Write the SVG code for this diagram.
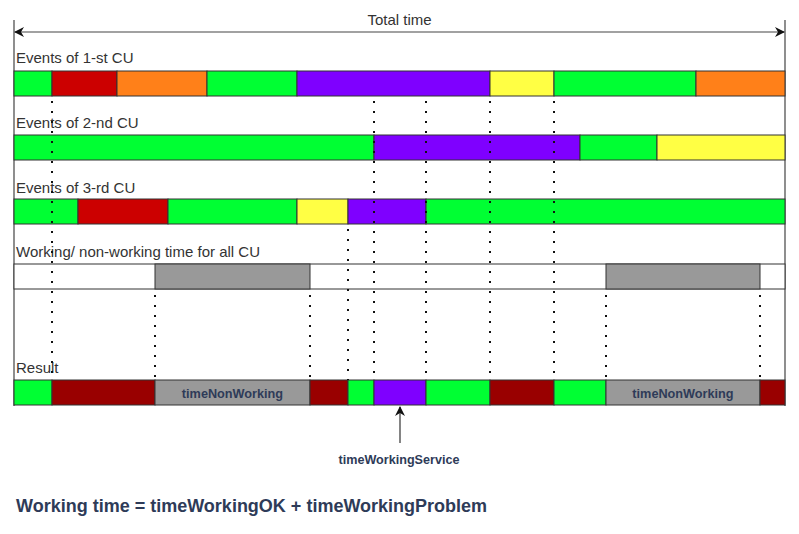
<svg xmlns="http://www.w3.org/2000/svg" width="799" height="534" viewBox="0 0 799 534">
<style>
.lbl{font-family:"Liberation Sans",Arial,sans-serif;font-size:15px;fill:#333}
.seg{stroke:#333;stroke-width:1}
.g{fill:#00ff33}.r{fill:#cc0000}.o{fill:#ff8019}.p{fill:#7f00ff}.y{fill:#ffff44}.w{fill:#ffffff}.gr{fill:#999999}.dr{fill:#990000}
.dot{stroke:#111;stroke-width:2;stroke-dasharray:2 8;fill:none}
.nav{font-family:"Liberation Sans",Arial,sans-serif;font-weight:bold;fill:#2e3b58}
</style>
<defs>
<marker id="ah" viewBox="0 0 10 10" refX="9" refY="5" markerWidth="10" markerHeight="10" markerUnits="userSpaceOnUse" orient="auto-start-reverse">
<path d="M0,0 L10,5 L0,10 L3,5 Z" fill="#111"/>
</marker>
</defs>
<rect width="799" height="534" fill="#fff"/>
<g id="frame">
<line x1="14" y1="20" x2="14" y2="406" stroke="#444" stroke-width="1.2"/>
<line x1="785" y1="20" x2="785" y2="406" stroke="#444" stroke-width="1.2"/>
<line x1="15" y1="32" x2="784" y2="32" stroke="#444" stroke-width="1.2" marker-start="url(#ah)" marker-end="url(#ah)"/>
<text class="lbl" x="399.5" y="25" text-anchor="middle">Total time</text>
</g>
<g id="row1">
<text class="lbl" x="16" y="63">Events of 1-st CU</text>
<rect class="seg g" x="14" y="71" width="38" height="25"/>
<rect class="seg r" x="52" y="71" width="65" height="25"/>
<rect class="seg o" x="117" y="71" width="90" height="25"/>
<rect class="seg g" x="207" y="71" width="90" height="25"/>
<rect class="seg p" x="297" y="71" width="193" height="25"/>
<rect class="seg y" x="490" y="71" width="64" height="25"/>
<rect class="seg g" x="554" y="71" width="142" height="25"/>
<rect class="seg o" x="696" y="71" width="89" height="25"/>
</g>
<g id="row2">
<text class="lbl" x="16" y="128">Events of 2-nd CU</text>
<rect class="seg g" x="14" y="135" width="360" height="25"/>
<rect class="seg p" x="374" y="135" width="206" height="25"/>
<rect class="seg g" x="580" y="135" width="77" height="25"/>
<rect class="seg y" x="657" y="135" width="128" height="25"/>
</g>
<g id="row3">
<text class="lbl" x="16" y="193">Events of 3-rd CU</text>
<rect class="seg g" x="14" y="199" width="64" height="25"/>
<rect class="seg r" x="78" y="199" width="90" height="25"/>
<rect class="seg g" x="168" y="199" width="129" height="25"/>
<rect class="seg y" x="297" y="199" width="51" height="25"/>
<rect class="seg p" x="348" y="199" width="78" height="25"/>
<rect class="seg g" x="426" y="199" width="359" height="25"/>
</g>
<g id="row4">
<text class="lbl" x="16" y="257">Working/ non-working time for all CU</text>
<rect class="seg w" x="14" y="264" width="771" height="25"/>
<rect class="seg gr" x="155" y="264" width="155" height="25"/>
<rect class="seg gr" x="606" y="264" width="154" height="25"/>
</g>
<g id="result">
<text class="lbl" x="16" y="373">Result</text>
<rect class="seg g" x="14" y="380" width="38" height="25"/>
<rect class="seg dr" x="52" y="380" width="103" height="25"/>
<rect class="seg gr" x="155" y="380" width="155" height="25"/>
<rect class="seg dr" x="310" y="380" width="38" height="25"/>
<rect class="seg g" x="348" y="380" width="26" height="25"/>
<rect class="seg p" x="374" y="380" width="52" height="25"/>
<rect class="seg g" x="426" y="380" width="64" height="25"/>
<rect class="seg dr" x="490" y="380" width="64" height="25"/>
<rect class="seg g" x="554" y="380" width="52" height="25"/>
<rect class="seg gr" x="606" y="380" width="154" height="25"/>
<rect class="seg dr" x="760" y="380" width="25" height="25"/>
<text class="nav" x="232.5" y="398" font-size="12.7" text-anchor="middle">timeNonWorking</text>
<text class="nav" x="683" y="398" font-size="12.7" text-anchor="middle">timeNonWorking</text>
</g>
<g id="connectors">
<line class="dot" x1="52" y1="101" x2="52" y2="380"/>
<line class="dot" x1="374" y1="101" x2="374" y2="380"/>
<line class="dot" x1="426" y1="101" x2="426" y2="380"/>
<line class="dot" x1="490" y1="101" x2="490" y2="380"/>
<line class="dot" x1="554" y1="101" x2="554" y2="380"/>
<line class="dot" x1="348" y1="229" x2="348" y2="380"/>
<line class="dot" x1="155" y1="295" x2="155" y2="380"/>
<line class="dot" x1="310" y1="295" x2="310" y2="380"/>
<line class="dot" x1="606" y1="295" x2="606" y2="380"/>
<line class="dot" x1="760" y1="295" x2="760" y2="380"/>
<line x1="400" y1="443" x2="400" y2="407" stroke="#333" stroke-width="1.2" marker-end="url(#ah)"/>
</g>
<g id="notes">
<text class="nav" x="399" y="464" font-size="12.6" text-anchor="middle">timeWorkingService</text>
<text class="nav" x="16" y="512" font-size="18">Working time = timeWorkingOK + timeWorkingProblem</text>
</g>
</svg>
